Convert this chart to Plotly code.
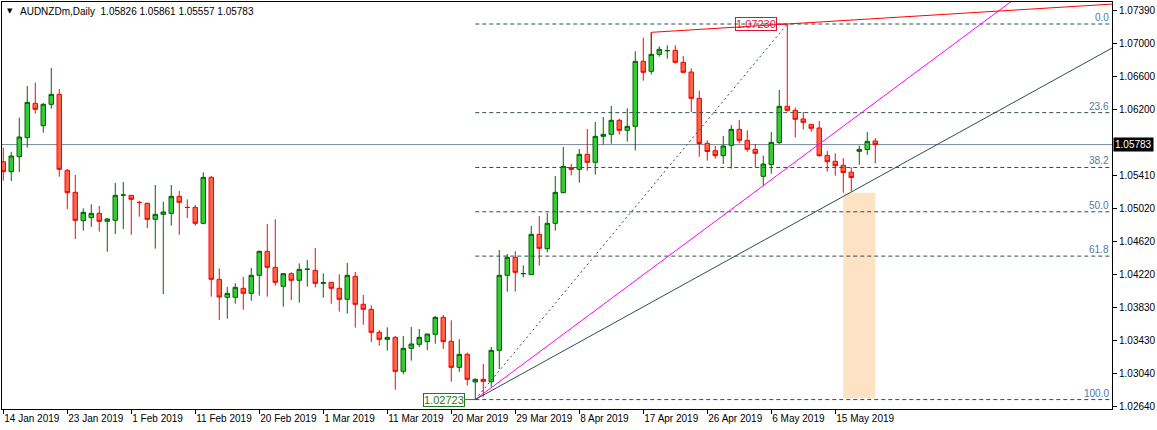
import plotly.graph_objects as go

# AUDNZDm daily bars (broker has Sunday bars -> 6 bars per week)
OPEN = [
    1.05578, 1.05458, 1.05638, 1.05866, 1.06278, 1.06010, 1.06266, 1.06386, 1.05474, 1.05210,
    1.04870, 1.04906, 1.04958, 1.04862, 1.04874, 1.05176, 1.05174, 1.05090, 1.05078, 1.04886,
    1.04946, 1.04958, 1.05162, 1.05030, 1.05030, 1.04838, 1.05390, 1.04166, 1.03950, 1.03950,
    1.04058, 1.03998, 1.04214, 1.04502, 1.04310, 1.04082, 1.04234, 1.04154, 1.04284, 1.04274,
    1.04118, 1.04130, 1.04058, 1.03926, 1.04202, 1.03866, 1.03806, 1.03530, 1.03446, 1.03470,
    1.03062, 1.03338, 1.03386, 1.03418, 1.03506, 1.03710, 1.03422, 1.03110, 1.03266, 1.02934,
    1.02966, 1.02938, 1.03314, 1.04214, 1.04430, 1.04232, 1.04222, 1.04706, 1.04534, 1.04838,
    1.05206, 1.05506, 1.05486, 1.05666, 1.05570, 1.05882, 1.05906, 1.06074, 1.05954, 1.06002,
    1.06782, 1.06662, 1.06866, 1.06908, 1.06914, 1.06770, 1.06654, 1.06338, 1.05798, 1.05710,
    1.05650, 1.05774, 1.05966, 1.05834, 1.05726, 1.05402, 1.05542, 1.05806, 1.06242, 1.06194,
    1.06090, 1.06026, 1.05982, 1.05654, 1.05582, 1.05534, 1.05452, 1.05702, 1.05724, 1.05826,
]
HIGH = [
    1.05746, 1.05698, 1.06106, 1.06486, 1.06526, 1.06282, 1.06702, 1.06450, 1.05490, 1.05418,
    1.05018, 1.05066, 1.05046, 1.04902, 1.05322, 1.05334, 1.05174, 1.05110, 1.05086, 1.05298,
    1.05098, 1.05298, 1.05226, 1.05126, 1.05058, 1.05450, 1.05406, 1.04298, 1.04074, 1.04118,
    1.04194, 1.04302, 1.04510, 1.04830, 1.04886, 1.04240, 1.04250, 1.04358, 1.04398, 1.04542,
    1.04238, 1.04132, 1.04226, 1.04362, 1.04254, 1.03978, 1.03854, 1.03558, 1.03590, 1.03486,
    1.03486, 1.03594, 1.03570, 1.03512, 1.03726, 1.03738, 1.03674, 1.03446, 1.03286, 1.02978,
    1.03150, 1.03354, 1.04518, 1.04470, 1.04506, 1.04334, 1.04806, 1.04926, 1.04962, 1.05406,
    1.05754, 1.05550, 1.05730, 1.05970, 1.06054, 1.06114, 1.06246, 1.06094, 1.06218, 1.06902,
    1.07066, 1.07130, 1.06962, 1.06974, 1.06974, 1.06846, 1.06698, 1.06430, 1.05834, 1.05766,
    1.05886, 1.06018, 1.06078, 1.05954, 1.05790, 1.05650, 1.05934, 1.06438, 1.07230, 1.06226,
    1.06174, 1.06030, 1.06066, 1.05706, 1.05678, 1.05620, 1.05510, 1.05770, 1.05932, 1.05861,
]
LOW = [
    1.05350, 1.05346, 1.05454, 1.05746, 1.06154, 1.05926, 1.06214, 1.05398, 1.05010, 1.04650,
    1.04750, 1.04794, 1.04738, 1.04498, 1.04710, 1.04770, 1.04702, 1.04918, 1.04782, 1.04534,
    1.03990, 1.04810, 1.04702, 1.04902, 1.04810, 1.04826, 1.03958, 1.03678, 1.03694, 1.03874,
    1.03802, 1.03910, 1.03970, 1.03958, 1.04090, 1.03838, 1.03918, 1.03886, 1.04078, 1.04070,
    1.03946, 1.03874, 1.03778, 1.03754, 1.03586, 1.03622, 1.03414, 1.03370, 1.03310, 1.02842,
    1.03026, 1.03190, 1.03354, 1.03318, 1.03394, 1.03330, 1.02938, 1.03058, 1.02894, 1.02723,
    1.02758, 1.02878, 1.03090, 1.04018, 1.04018, 1.04190, 1.04220, 1.04330, 1.04490, 1.04750,
    1.05198, 1.05414, 1.05326, 1.05470, 1.05422, 1.05782, 1.05794, 1.05902, 1.05818, 1.05714,
    1.06550, 1.06626, 1.06838, 1.06814, 1.06754, 1.06638, 1.06174, 1.05638, 1.05590, 1.05614,
    1.05550, 1.05494, 1.05798, 1.05698, 1.05506, 1.05298, 1.05434, 1.05790, 1.06178, 1.05870,
    1.05966, 1.05938, 1.05638, 1.05458, 1.05410, 1.05206, 1.05218, 1.05540, 1.05660, 1.05557,
]
CLOSE = [
    1.05458, 1.05646, 1.05874, 1.06290, 1.06206, 1.06266, 1.06386, 1.05486, 1.05206, 1.04874,
    1.04970, 1.04958, 1.04862, 1.04890, 1.05174, 1.05178, 1.05126, 1.05088, 1.04886, 1.04946,
    1.04974, 1.05162, 1.05090, 1.05028, 1.04838, 1.05390, 1.04166, 1.03954, 1.03998, 1.04070,
    1.03998, 1.04214, 1.04502, 1.04310, 1.04130, 1.04234, 1.04154, 1.04286, 1.04288, 1.04118,
    1.04126, 1.04058, 1.03926, 1.04214, 1.03866, 1.03806, 1.03530, 1.03446, 1.03470, 1.03062,
    1.03338, 1.03390, 1.03470, 1.03510, 1.03710, 1.03418, 1.03110, 1.03266, 1.02966, 1.02966,
    1.02942, 1.03314, 1.04214, 1.04430, 1.04250, 1.04236, 1.04706, 1.04538, 1.04838, 1.05210,
    1.05522, 1.05486, 1.05666, 1.05570, 1.05882, 1.05906, 1.06074, 1.05954, 1.06002, 1.06782,
    1.06650, 1.06866, 1.06926, 1.06912, 1.06770, 1.06650, 1.06338, 1.05796, 1.05700, 1.05650,
    1.05766, 1.05966, 1.05834, 1.05726, 1.05678, 1.05550, 1.05810, 1.06242, 1.06194, 1.06086,
    1.06050, 1.05978, 1.05650, 1.05578, 1.05530, 1.05448, 1.05388, 1.05726, 1.05822, 1.05783,
]

# time scale labels, one every 8 bars
TICK_DATES = ["14 Jan 2019", "23 Jan 2019", "1 Feb 2019", "11 Feb 2019", "20 Feb 2019",
              "1 Mar 2019", "11 Mar 2019", "20 Mar 2019", "29 Mar 2019", "8 Apr 2019",
              "17 Apr 2019", "26 Apr 2019", "6 May 2019", "15 May 2019"]
TICK_STEP = 8

PRICE_TICKS = [1.07390, 1.07000, 1.06600, 1.06200, 1.05410, 1.05020,
               1.04620, 1.04220, 1.03830, 1.03430, 1.03040, 1.02640]

LAST_PRICE = 1.05783

# fibo retracement: from swing low to swing high (bar index, price)
FIB_LOW = (59, 1.02723)
FIB_HIGH = (98, 1.07230)
FIB_LEVELS = [0.0, 23.6, 38.2, 50.0, 61.8, 100.0]

# trendlines (two anchor points each, extended to the right edge)
MAGENTA_LINE = ([59, 113], [1.02723, 1.06574])
SLATE_LINE = ([59, 113], [1.02723, 1.05585])
RED_LINE = ([81, 98], [1.07130, 1.07230])

# shaded zone: bar from / to, price bottom / top
ZONE = (105, 109, 1.02740, 1.05206)

X_RANGE = [-0.16, 138.59]
Y_RANGE = [1.02610, 1.07494]

FONT = "Liberation Sans, Arial, sans-serif"
SLATE = "#2f4f4f"


def ray(xs, ys, x_end):
    k = (ys[1] - ys[0]) / (xs[1] - xs[0])
    return [xs[0], x_end], [ys[0], ys[0] + k * (x_end - xs[0])]


bars = list(range(len(OPEN)))
x_end = X_RANGE[1]

fig = go.Figure()

fig.add_trace(go.Candlestick(
    x=bars, open=OPEN, high=HIGH, low=LOW, close=CLOSE,
    increasing=dict(line=dict(color="#006400", width=1), fillcolor="#32cd32"),
    decreasing=dict(line=dict(color="#ff0000", width=1), fillcolor="#ff6347"),
    whiskerwidth=0, showlegend=False,
))

# fibo levels
fib_range = FIB_HIGH[1] - FIB_LOW[1]
annotations = []
for lvl in FIB_LEVELS:
    price = FIB_HIGH[1] - lvl / 100.0 * fib_range
    fig.add_trace(go.Scatter(x=[FIB_LOW[0], x_end], y=[price, price], mode="lines",
                             line=dict(color=SLATE, width=1, dash="4px,3px"),
                             showlegend=False, hoverinfo="skip"))
    annotations.append(dict(x=x_end, y=price, xref="x", yref="y", text="%.1f" % lvl,
                            xanchor="right", yanchor="bottom", showarrow=False,
                            xshift=-2, yshift=0, borderpad=0,
                            font=dict(family=FONT, size=10, color="#4d7aa3")))

# fibo diagonal
fig.add_trace(go.Scatter(x=[FIB_LOW[0], FIB_HIGH[0]], y=[FIB_LOW[1], FIB_HIGH[1]],
                         mode="lines", line=dict(color=SLATE, width=1, dash="2px,3px"),
                         showlegend=False, hoverinfo="skip"))

# trendlines
mx, my = ray(*MAGENTA_LINE, x_end)
fig.add_trace(go.Scatter(x=mx, y=my, mode="lines", line=dict(color="#ff00ff", width=1),
                         showlegend=False, hoverinfo="skip"))
sx, sy = ray(*SLATE_LINE, x_end)
fig.add_trace(go.Scatter(x=sx, y=sy, mode="lines", line=dict(color=SLATE, width=1),
                         showlegend=False, hoverinfo="skip"))
rx, ry = ray(*RED_LINE, x_end)
r0 = RED_LINE[0][0]
fig.add_trace(go.Scatter(x=[r0] + rx, y=[CLOSE[r0]] + ry, mode="lines",
                         line=dict(color="#ff0000", width=1),
                         showlegend=False, hoverinfo="skip"))

# swing price labels
for (bx, price), col in [(FIB_LOW, "#1e7b1e"), (FIB_HIGH, "#dc143c")]:
    fig.add_trace(go.Scatter(x=[bx - 1.25, bx], y=[price, price], mode="lines",
                             line=dict(color=col, width=1),
                             showlegend=False, hoverinfo="skip"))
    annotations.append(dict(x=bx - 1.25, y=price, xref="x", yref="y",
                            text="%.5f" % price, xanchor="right", yanchor="middle",
                            showarrow=False, bordercolor=col, borderwidth=1, borderpad=0,
                            font=dict(family=FONT, size=11, color=col)))

# header
annotations.append(dict(x=0, y=1, xref="paper", yref="paper", text="\u25bc",
                        xanchor="left", yanchor="top", showarrow=False,
                        xshift=3, yshift=-3, font=dict(family="DejaVu Sans", size=7, color="black")))
annotations.append(dict(x=0, y=1, xref="paper", yref="paper",
                        text="AUDNZDm,Daily\u00a0\u00a0%.5f %.5f %.5f %.5f"
                             % (OPEN[-1], HIGH[-1], LOW[-1], CLOSE[-1]),
                        xanchor="left", yanchor="top", showarrow=False,
                        xshift=16, yshift=-2, font=dict(family=FONT, size=10, color="black")))

# last price tag on the axis
annotations.append(dict(x=1, y=LAST_PRICE, xref="paper", yref="y", text="%.5f" % LAST_PRICE,
                        xanchor="left", yanchor="middle", showarrow=False, xshift=1,
                        bgcolor="black", borderpad=1,
                        font=dict(family=FONT, size=10, color="white")))

shapes = [
    dict(type="rect", xref="x", yref="y", x0=ZONE[0], x1=ZONE[1], y0=ZONE[2], y1=ZONE[3],
         fillcolor="#fee2c4", line=dict(width=0), layer="below"),
    dict(type="line", xref="paper", yref="y", x0=0, x1=1, y0=LAST_PRICE, y1=LAST_PRICE,
         line=dict(color="#778899", width=1), layer="below"),
]

fig.update_layout(
    width=1157, height=430,
    margin=dict(l=2, r=45, t=2, b=21, autoexpand=False),
    paper_bgcolor="white", plot_bgcolor="white",
    font=dict(family=FONT, size=10, color="black"),
    boxgap=0.44, boxgroupgap=0,
    showlegend=False,
    annotations=annotations,
    shapes=shapes,
    xaxis=dict(
        range=X_RANGE, rangeslider=dict(visible=False), automargin=False,
        tickvals=[i * TICK_STEP for i in range(len(TICK_DATES))], ticktext=TICK_DATES,
        tickangle=0, ticks="outside", ticklen=4, tickcolor="black",
        ticklabelposition="outside right",
        showgrid=False, zeroline=False,
        showline=True, linecolor="black", linewidth=1, mirror=True,
        tickfont=dict(family=FONT, size=10, color="black"),
    ),
    yaxis=dict(
        range=Y_RANGE, side="right", automargin=False,
        tickvals=PRICE_TICKS, ticktext=["%.5f" % p for p in PRICE_TICKS],
        ticks="outside", ticklen=4, tickcolor="black",
        showgrid=False, zeroline=False,
        showline=True, linecolor="black", linewidth=1, mirror=True,
        tickfont=dict(family=FONT, size=10, color="black"),
    ),
)

# the page body has a default 8px margin; drop it so the chart sits at 0,0
fig.write_html("out.html", config={"displayModeBar": False},
               post_script="document.body.style.margin='0';")
